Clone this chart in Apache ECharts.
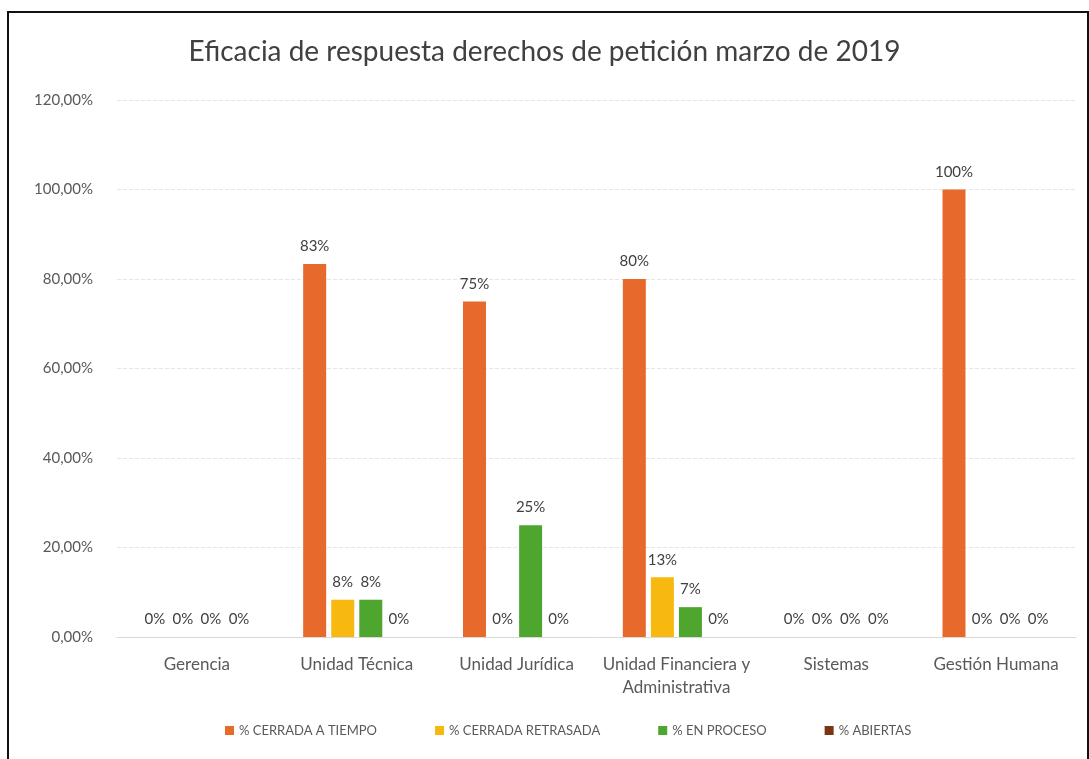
<!DOCTYPE html>
<html>
<head>
<meta charset="utf-8">
<script src="https://cdn.jsdelivr.net/npm/echarts@6/dist/echarts.min.js"></script>
<style>
  html, body { margin: 0; padding: 0; background: #fff; }
  #chart { width: 1089px; height: 759px; }
</style>
</head>
<body>
<div id="chart"></div>
<script>
// areas
const categories = ['Gerencia', 'Unidad Técnica', 'Unidad Jurídica', 'Unidad Financiera y\nAdministrativa', 'Sistemas', 'Gestión Humana'];

// percentages per area
const cerradaATiempo = [0, 83.33, 75, 80, 0, 100];
const cerradaRetrasada = [0, 8.33, 0, 13.33, 0, 0];
const enProceso = [0, 8.33, 25, 6.67, 0, 0];
const abiertas = [0, 0, 0, 0, 0, 0];

const seriesNames = ['% CERRADA A TIEMPO', '% CERRADA RETRASADA', '% EN PROCESO', '% ABIERTAS'];
const colors = ['#E8692C', '#F7B80F', '#4FA62E', '#7A3512'];

const font = 'Lato, "Open Sans", sans-serif';

function makeSeries(name, data, color) {
    return {
        name: name,
        type: 'bar',
        data: data,
        barWidth: 23,
        barGap: '22%',
        itemStyle: { color: color },
        label: {
            show: true,
            position: 'top',
            distance: 10,
            color: '#404040',
            fontFamily: font,
            fontSize: 15,
            formatter: p => Math.round(p.value) + '%'
        }
    };
}

let option = {
    animation: false,
    backgroundColor: '#fff',
    title: {
        text: 'Eficacia de respuesta derechos de petición marzo de 2019',
        left: 'center',
        top: 33,
        textStyle: { fontFamily: font, fontSize: 28, fontWeight: 'normal', color: '#404040' }
    },
    grid: { left: 117, right: 13, top: 100, bottom: 122 },
    legend: {
        bottom: 17,
        left: 220,
        itemWidth: 9,
        itemHeight: 9,
        itemGap: 58,
        icon: 'rect',
        textStyle: { fontFamily: font, fontSize: 13, color: '#595959' },
        data: seriesNames
    },
    xAxis: {
        type: 'category',
        data: categories,
        axisLine: { lineStyle: { color: '#d9d9d9' } },
        axisTick: { show: false },
        axisLabel: { fontFamily: font, fontSize: 17, color: '#595959', margin: 16, lineHeight: 23, interval: 0 }
    },
    yAxis: {
        type: 'value',
        min: 0,
        max: 120,
        interval: 20,
        axisLine: { show: false },
        axisTick: { show: false },
        splitLine: { lineStyle: { color: '#e6e6e6', type: 'dashed' } },
        axisLabel: {
            fontFamily: font, fontSize: 15, color: '#595959', margin: 24,
            formatter: v => v.toFixed(2).replace('.', ',') + '%'
        }
    },
    graphic: [{
        type: 'rect',
        shape: { x: 8, y: 12, width: 1080, height: 760 },
        style: { fill: 'none', stroke: '#111', lineWidth: 2 },
        silent: true
    }],
    series: [
        makeSeries(seriesNames[0], cerradaATiempo, colors[0]),
        makeSeries(seriesNames[1], cerradaRetrasada, colors[1]),
        makeSeries(seriesNames[2], enProceso, colors[2]),
        makeSeries(seriesNames[3], abiertas, colors[3])
    ]
};

let myChart = echarts.init(document.getElementById('chart'));
myChart.setOption(option);
</script>
</body>
</html>
